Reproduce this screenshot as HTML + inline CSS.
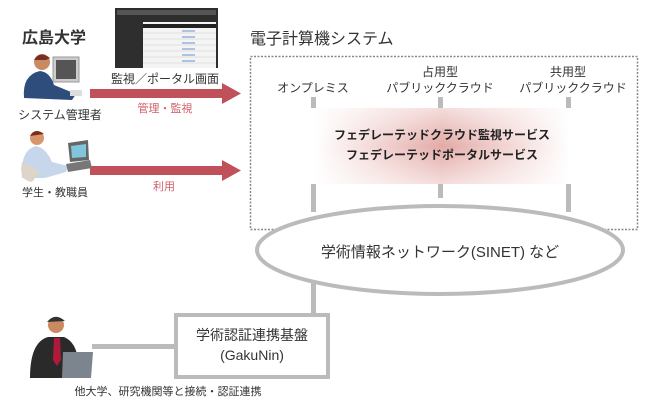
<!DOCTYPE html>
<html><head><meta charset="utf-8"><style>
html,body{margin:0;padding:0;background:#fff;}
body{width:650px;height:407px;overflow:hidden;position:relative;font-family:"Liberation Sans","Noto Sans CJK JP",sans-serif;}
svg text{font-family:"Liberation Sans","Noto Sans CJK JP",sans-serif;}
</style></head><body>
<svg width="650" height="407" viewBox="0 0 650 407" xmlns="http://www.w3.org/2000/svg">
<defs>
<linearGradient id="g" x1="0" x2="1" y1="0" y2="0">
<stop offset="0" stop-color="#fff"/><stop offset="0.5" stop-color="#e3aaa6"/><stop offset="1" stop-color="#fff"/>
</linearGradient>
<linearGradient id="gv" x1="0" x2="0" y1="0" y2="1">
<stop offset="0" stop-color="#fff" stop-opacity="0.6"/><stop offset="0.5" stop-color="#fff" stop-opacity="0"/><stop offset="1" stop-color="#fff" stop-opacity="0.6"/>
</linearGradient>
</defs>
<!-- titles -->
<text x="22" y="43" font-size="16" font-weight="bold" fill="#333">広島大学</text>
<text x="250" y="44" font-size="16" fill="#333">電子計算機システム</text>
<!-- screenshot -->
<rect x="115" y="8" width="103" height="60" fill="#2e2e2e"/>
<rect x="117" y="10" width="99" height="5" fill="#555"/>
<rect x="143" y="22" width="73" height="46" fill="#f4f4f4"/>
<rect x="143" y="24" width="73" height="4" fill="#222"/>
<g stroke="#ccc" stroke-width="0.6">
<line x1="143" y1="33" x2="216" y2="33"/><line x1="143" y1="39" x2="216" y2="39"/><line x1="143" y1="45" x2="216" y2="45"/><line x1="143" y1="51" x2="216" y2="51"/><line x1="143" y1="57" x2="216" y2="57"/><line x1="143" y1="63" x2="216" y2="63"/>
</g>
<g stroke="#6c8fd0" stroke-width="1"><line x1="182" y1="31" x2="195" y2="31"/><line x1="182" y1="37" x2="195" y2="37"/><line x1="182" y1="43" x2="195" y2="43"/><line x1="182" y1="49" x2="195" y2="49"/><line x1="182" y1="55" x2="195" y2="55"/><line x1="182" y1="61" x2="195" y2="61"/></g>
<text x="165" y="83" font-size="12" text-anchor="middle" fill="#333">監視／ポータル画面</text>
<!-- arrows -->
<rect x="90" y="89" width="134" height="9" fill="#c0505a"/>
<polygon points="222,83 241,93.5 222,104" fill="#c0505a"/>
<text x="165" y="112" font-size="11" text-anchor="middle" fill="#d0606a">管理・監視</text>
<rect x="90" y="166" width="134" height="9" fill="#c0505a"/>
<polygon points="222,160 241,170.5 222,181" fill="#c0505a"/>
<text x="164" y="190" font-size="11" text-anchor="middle" fill="#d0606a">利用</text>
<!-- admin person -->
<rect x="53" y="57" width="26" height="25" fill="#ccc" stroke="#999"/>
<rect x="56" y="60" width="20" height="19" fill="#555"/>
<circle cx="42" cy="62" r="8" fill="#c98a62"/>
<path d="M34 60 Q40 50 50 58 L46 60 Z" fill="#7a2e20"/>
<path d="M24 98 Q22 75 40 71 Q50 72 54 85 L76 94 L72 100 Z" fill="#2f4d7c"/>
<rect x="70" y="90" width="12" height="6" fill="#ddd"/>
<text x="60" y="119" font-size="12" text-anchor="middle" fill="#333">システム管理者</text>
<!-- student -->
<circle cx="37" cy="138" r="7" fill="#d8966c"/>
<path d="M30 136 Q35 127 44 134 Z" fill="#7a2e20"/>
<path d="M22 178 Q20 150 36 146 Q46 148 52 162 L68 166 L66 172 L45 178 Z" fill="#c8d6ec"/>
<path d="M22 162 Q18 180 32 182 L40 172 Z" fill="#ddd6c8"/>
<polygon points="68,143 88,140 89,160 70,162" fill="#666"/>
<polygon points="71,146 86,144 86,157 72,158" fill="#7fc6dc"/>
<polygon points="66,164 90,160 92,168 68,172" fill="#777"/>
<text x="55" y="196" font-size="11" text-anchor="middle" fill="#333">学生・教職員</text>
<!-- dashed box -->
<rect x="250.5" y="56.5" width="387" height="173" fill="none" stroke="#888" stroke-width="1.5" stroke-dasharray="2,1.5"/>
<text x="313" y="92" font-size="12" text-anchor="middle" fill="#333">オンプレミス</text>
<text x="440" y="76" font-size="12" text-anchor="middle" fill="#333">占用型</text>
<text x="440" y="92" font-size="12" text-anchor="middle" fill="#333">パブリッククラウド</text>
<text x="568" y="76" font-size="12" text-anchor="middle" fill="#333">共用型</text>
<text x="573" y="92" font-size="12" text-anchor="middle" fill="#333">パブリッククラウド</text>
<!-- gradient band -->
<rect x="315" y="108" width="255" height="76" fill="url(#g)"/>
<rect x="315" y="108" width="255" height="76" fill="url(#gv)"/>
<g fill="#bbb">
<rect x="311" y="97" width="5" height="11"/><rect x="438" y="97" width="5" height="11"/><rect x="566" y="97" width="5" height="11"/>
<rect x="311" y="184" width="5" height="28"/><rect x="438" y="184" width="5" height="14"/><rect x="566" y="184" width="5" height="28"/>
<rect x="311" y="280" width="5" height="34"/>
</g>
<text x="442" y="139" font-size="12" font-weight="bold" text-anchor="middle" fill="#222">フェデレーテッドクラウド監視サービス</text>
<text x="442" y="159" font-size="12" font-weight="bold" text-anchor="middle" fill="#222">フェデレーテッドポータルサービス</text>
<!-- ellipse -->
<ellipse cx="440" cy="250" rx="183" ry="44" fill="#fff" stroke="#bbb" stroke-width="4"/>
<text x="440" y="257" font-size="15" text-anchor="middle" fill="#333">学術情報ネットワーク(SINET) など</text>
<!-- gakunin -->
<rect x="92" y="344" width="84" height="5" fill="#bbb"/>
<rect x="176" y="315" width="152" height="62" fill="#fff" stroke="#bbb" stroke-width="4"/>
<text x="252" y="340" font-size="14" text-anchor="middle" fill="#333">学術認証連携基盤</text>
<text x="252" y="360" font-size="14" text-anchor="middle" fill="#333">(GakuNin)</text>
<!-- businessman -->
<circle cx="56" cy="325" r="8" fill="#c98a62"/>
<path d="M47 322 Q55 312 65 321 Z" fill="#333"/>
<path d="M30 378 Q30 342 48 337 L64 337 Q76 342 78 360 L78 378 Z" fill="#2a2a2a"/>
<polygon points="54,338 60,338 61,360 57,366 53,360" fill="#b01a3a"/>
<polygon points="63,352 93,352 91,378 62,378" fill="#7c858e"/>
<text x="168" y="395" font-size="11" text-anchor="middle" fill="#333">他大学、研究機関等と接続・認証連携</text>
</svg>
</body></html>
